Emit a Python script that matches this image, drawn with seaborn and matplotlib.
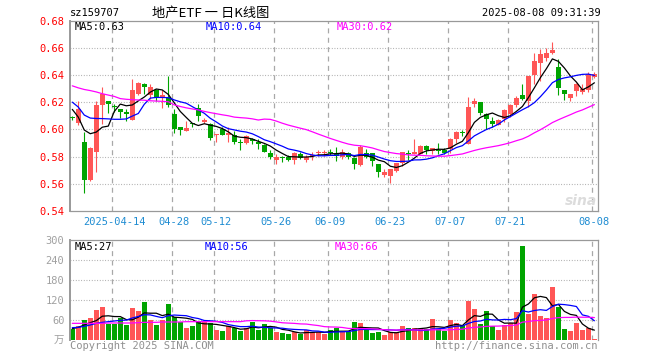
import numpy as np
import pandas as pd
import matplotlib
matplotlib.use('Agg')
import matplotlib.pyplot as plt
import seaborn as sns

# daily bars 2025-04-02 .. 2025-08-08 (88 trading days)
tick_pos = [7, 17, 24, 34, 43, 53, 63, 73, 87]
tick_labels = ['2025-04-14', '04-28', '05-12', '05-26', '06-09',
               '06-23', '07-07', '07-21', '08-08']

open_ = [0.609, 0.605, 0.591, 0.563, 0.583, 0.618, 0.621, 0.6172, 0.615, 0.6122,
         0.607, 0.626, 0.633, 0.6255, 0.6287, 0.623, 0.6238, 0.6115, 0.6017, 0.599,
         0.6045, 0.616, 0.6053, 0.604, 0.5962, 0.600, 0.5956, 0.596, 0.591, 0.590,
         0.5932, 0.5907, 0.5883, 0.5829, 0.5776, 0.5795, 0.580, 0.5776, 0.5817, 0.5776,
         0.5807, 0.5827, 0.5827, 0.5834, 0.5817, 0.5797, 0.5829, 0.5792, 0.5736, 0.5829,
         0.5824, 0.5743, 0.5662, 0.5658, 0.5695, 0.5751, 0.5829, 0.5822, 0.5822, 0.5878,
         0.5841, 0.5849, 0.5846, 0.5854, 0.5932, 0.5977, 0.5893, 0.619, 0.6198, 0.6112,
         0.6059, 0.6034, 0.6076, 0.6112, 0.6178, 0.6254, 0.621, 0.640, 0.649, 0.6527,
         0.6563, 0.6458, 0.6288, 0.6229, 0.6283, 0.6278, 0.6288, 0.6385]
high = [0.610, 0.621, 0.598, 0.587, 0.621, 0.631, 0.621, 0.619, 0.615, 0.615,
        0.637, 0.635, 0.634, 0.633, 0.630, 0.629, 0.639, 0.615, 0.602, 0.6061,
        0.605, 0.619, 0.608, 0.6045, 0.5968, 0.602, 0.602, 0.5986, 0.593, 0.5956,
        0.5937, 0.5927, 0.589, 0.585, 0.5817, 0.5805, 0.581, 0.583, 0.583, 0.581,
        0.583, 0.5849, 0.5849, 0.5854, 0.5873, 0.5853, 0.583, 0.5795, 0.5882, 0.5853,
        0.5826, 0.5745, 0.5706, 0.5706, 0.5751, 0.5834, 0.5849, 0.5927, 0.5883, 0.5883,
        0.5866, 0.5898, 0.5866, 0.5939, 0.5988, 0.5995, 0.6239, 0.6234, 0.6198, 0.6117,
        0.6088, 0.6076, 0.6146, 0.6185, 0.6246, 0.6337, 0.6393, 0.6563, 0.6588, 0.660,
        0.6644, 0.6515, 0.6288, 0.6259, 0.6344, 0.6332, 0.6424, 0.6424]
low = [0.607, 0.603, 0.553, 0.562, 0.569, 0.604, 0.612, 0.613, 0.608, 0.606,
       0.607, 0.625, 0.626, 0.6225, 0.621, 0.616, 0.6164, 0.597, 0.596, 0.5986,
       0.6015, 0.606, 0.605, 0.592, 0.5907, 0.5956, 0.591, 0.5895, 0.585, 0.589,
       0.589, 0.5853, 0.583, 0.5785, 0.5744, 0.5761, 0.5768, 0.5744, 0.5785, 0.5761,
       0.5776, 0.5805, 0.5805, 0.581, 0.5767, 0.5785, 0.5785, 0.5706, 0.5731, 0.5792,
       0.5731, 0.565, 0.565, 0.5603, 0.569, 0.5731, 0.5776, 0.5817, 0.5817, 0.5817,
       0.5817, 0.5817, 0.5817, 0.5829, 0.5898, 0.5951, 0.5893, 0.6166, 0.6107, 0.6002,
       0.602, 0.6034, 0.6051, 0.6093, 0.6161, 0.6215, 0.6166, 0.6337, 0.6356, 0.6502,
       0.6551, 0.6254, 0.6215, 0.621, 0.6246, 0.6259, 0.6278, 0.6376]
close = [0.608, 0.615, 0.563, 0.586, 0.618, 0.626, 0.619, 0.6168, 0.613, 0.6118,
         0.629, 0.634, 0.631, 0.631, 0.6233, 0.6255, 0.6176, 0.600, 0.5993, 0.6012,
         0.604, 0.6096, 0.6066, 0.594, 0.5966, 0.596, 0.5976, 0.591, 0.5898, 0.595,
         0.5912, 0.589, 0.5834, 0.580, 0.580, 0.579, 0.5776, 0.5824, 0.5793, 0.580,
         0.5811, 0.5831, 0.5831, 0.5829, 0.5805, 0.5832, 0.5797, 0.5744, 0.5873, 0.5797,
         0.5767, 0.5688, 0.5687, 0.5706, 0.5751, 0.5834, 0.5817, 0.5834, 0.5878, 0.5846,
         0.5866, 0.5846, 0.5829, 0.5932, 0.598, 0.5973, 0.6166, 0.6205, 0.6117, 0.6073,
         0.6039, 0.6068, 0.6141, 0.6178, 0.6234, 0.622, 0.6393, 0.6502, 0.6551, 0.6563,
         0.658, 0.6302, 0.6259, 0.6259, 0.6337, 0.6295, 0.641, 0.641]
volume = [33, 42, 60, 66, 90, 99, 48, 49, 65, 45,
          96, 87, 114, 60, 45, 60, 108, 69, 54, 36,
          42, 56, 55, 51, 30, 27, 42, 36, 27, 36,
          54, 30, 48, 36, 24, 21, 18, 24, 18, 30,
          24, 24, 18, 30, 35, 25, 25, 54, 51, 30,
          21, 24, 15, 24, 24, 42, 36, 36, 33, 33,
          63, 33, 27, 60, 51, 45, 117, 93, 48, 87,
          42, 30, 45, 51, 84, 282, 78, 138, 72, 66,
          159, 99, 33, 27, 51, 30, 36, 4]

# moving-average values before the window is full
ma5_head = [0.6147, 0.609, 0.5995, 0.5968]
ma10_head = [0.620, 0.6164, 0.6105, 0.6083, 0.608, 0.6079, 0.6077, 0.6074, 0.6074]
ma30_head = [0.632, 0.6305, 0.6293, 0.6285, 0.6275, 0.6262, 0.6252, 0.6242, 0.6226, 0.6221,
             0.6218, 0.6216, 0.6214, 0.621, 0.6208, 0.6206, 0.6203, 0.618, 0.6168, 0.6158,
             0.615, 0.6143, 0.6132, 0.6123, 0.6115, 0.6107, 0.610, 0.609, 0.6086]
vma5_head = [34, 38, 45, 52]
vma10_head = [37, 38, 41, 45, 50, 53, 55, 57, 59]
vma30_head = [50, 50, 50, 50, 50, 50, 51, 51, 51, 51, 51, 52, 53, 53, 53,
              54, 54, 54, 54, 55, 55, 55, 55, 55, 55, 55, 55, 55, 55]

RED = '#ff5656'
GREEN = '#00a400'
GRID = '#a8a8a8'
FRAME = '#999999'
W, H = 660, 360


def rolling_ma(s, w, head):
    m = s.rolling(w).mean()
    m.iloc[:len(head)] = head
    return m


df = pd.DataFrame({'open': open_, 'high': high, 'low': low,
                   'close': close, 'vol': volume})
df['i'] = np.arange(len(df))
df['dir'] = np.where(df['close'] >= df['open'], 'up', 'down')
df['ma5'] = rolling_ma(df['close'], 5, ma5_head)
df['ma10'] = rolling_ma(df['close'], 10, ma10_head)
df['ma30'] = rolling_ma(df['close'], 30, ma30_head)
df['vma5'] = rolling_ma(df['vol'], 5, vma5_head)
df['vma10'] = rolling_ma(df['vol'], 10, vma10_head)
df['vma30'] = rolling_ma(df['vol'], 30, vma30_head)

sns.set_style('white')
plt.rcParams['font.family'] = ['DejaVu Sans Mono', 'Noto Sans CJK SC']
plt.rcParams['axes.linewidth'] = 0.8

fig = plt.figure(figsize=(W / 100, H / 100), dpi=100)
ax = fig.add_axes([70 / W, 1 - 211 / H, 528 / W, 190.5 / H])
axv = fig.add_axes([70 / W, 1 - 340 / H, 528 / W, 100 / H])

xlim = (-0.38, 87.6)
grid_x = [p - 0.33 for p in tick_pos]

# ---- price panel
cols = df['dir'].map({'up': RED, 'down': GREEN})
for y in np.arange(0.56, 0.665, 0.02):
    ax.axhline(y, color=GRID, lw=0.8, ls=(0, (0.8, 1.6)), zorder=0)
for x in grid_x:
    ax.axvline(x, color=GRID, lw=0.9, ls=(0, (4, 3.5)), zorder=0)

ax.vlines(df['i'], df['low'], df['high'], colors=cols, lw=0.8, zorder=2)
diff = (df['close'] - df['open']).abs()
lo = np.minimum(df['open'], df['close'])
mid = (df['open'] + df['close']) / 2
body_h = np.maximum(diff, 0.0008)
body_b = np.where(diff < 0.0008, mid - 0.0004, lo)
ax.bar(df['i'], body_h, bottom=body_b, width=0.74, color=cols, lw=0, zorder=3)

sns.lineplot(data=df, x='i', y='ma5', ax=ax, color='black', lw=0.9, zorder=4)
sns.lineplot(data=df, x='i', y='ma10', ax=ax, color='#0000ff', lw=0.9, zorder=4)
sns.lineplot(data=df, x='i', y='ma30', ax=ax, color='#ff00ff', lw=0.9, zorder=4)

ax.set_xlim(*xlim)
ax.set_ylim(0.54, 0.68)
ax.set_yticks(np.round(np.arange(0.54, 0.681, 0.02), 2))
ax.set_yticklabels([f'{v:.2f}' for v in np.arange(0.54, 0.681, 0.02)],
                   color='#ff0000', fontsize=7.5)
ax.set_xticks(tick_pos)
ax.set_xticklabels(tick_labels, color='#1e8cd2', fontsize=7.5)
ax.tick_params(length=0, pad=4)
ax.tick_params(axis='x', pad=4)
ax.set_xlabel('')
ax.set_ylabel('')
for s in ax.spines.values():
    s.set_color(FRAME)
    s.set_linewidth(0.9)
ax.spines['left'].set_linewidth(1.4)

# ---- volume panel
for y in [60, 120, 180, 240]:
    axv.axhline(y, color=GRID, lw=0.8, ls=(0, (0.8, 1.6)), zorder=0)
for x in grid_x:
    axv.axvline(x, color=GRID, lw=0.9, ls=(0, (4, 3.5)), zorder=0)

sns.barplot(data=df, x='i', y='vol', hue='dir', palette={'up': RED, 'down': GREEN},
            native_scale=True, width=0.84, saturation=1, errorbar=None,
            legend=False, linewidth=0, ax=axv, zorder=2)
sns.lineplot(data=df, x='i', y='vma5', ax=axv, color='black', lw=0.9, zorder=4)
sns.lineplot(data=df, x='i', y='vma10', ax=axv, color='#0000ff', lw=0.9, zorder=4)
sns.lineplot(data=df, x='i', y='vma30', ax=axv, color='#ff00ff', lw=0.9, zorder=4)

axv.set_xlim(*xlim)
axv.set_ylim(0, 300)
axv.set_yticks([0, 60, 120, 180, 240, 300])
axv.set_yticklabels(['万', '60', '120', '180', '240', '300'], color='#a0a0a0', fontsize=7.5)
axv.set_xticks([])
axv.tick_params(length=0, pad=4)
axv.set_xlabel('')
axv.set_ylabel('')
for s in axv.spines.values():
    s.set_color(FRAME)
    s.set_linewidth(0.9)
axv.spines['left'].set_linewidth(1.4)
axv.spines['bottom'].set_visible(False)


def put(x, y, s, **kw):
    fig.text(x / W, 1 - y / H, s, va='center', **kw)


put(70, 13, 'sz159707', fontsize=7.5, color='black')
put(152, 13, '地产ETF 一 日K线图', fontsize=9.5, color='black',
    family=['Noto Sans CJK SC', 'DejaVu Sans'])
put(601, 13, '2025-08-08 09:31:39', fontsize=7.5, color='black', ha='right')

put(75, 27, 'MA5:0.63', fontsize=7.5, color='black')
put(206, 27, 'MA10:0.64', fontsize=7.5, color='#0000ff')
put(337, 27, 'MA30:0.62', fontsize=7.5, color='#ff00ff')

put(75, 246.5, 'MA5:27', fontsize=7.5, color='black')
put(205, 246.5, 'MA10:56', fontsize=7.5, color='#0000ff')
put(335, 246.5, 'MA30:66', fontsize=7.5, color='#ff00ff')

put(70, 346, 'Copyright 2025 SINA.COM', fontsize=7.5, color='#909090')
put(597, 346, 'http://finance.sina.com.cn', fontsize=7.5, color='#909090', ha='right')

put(581, 201, 'sina', fontsize=10, color='#dcdcdc', ha='center',
    fontweight='bold', fontstyle='italic', family='DejaVu Sans')

fig.savefig('out.png', dpi=100)
